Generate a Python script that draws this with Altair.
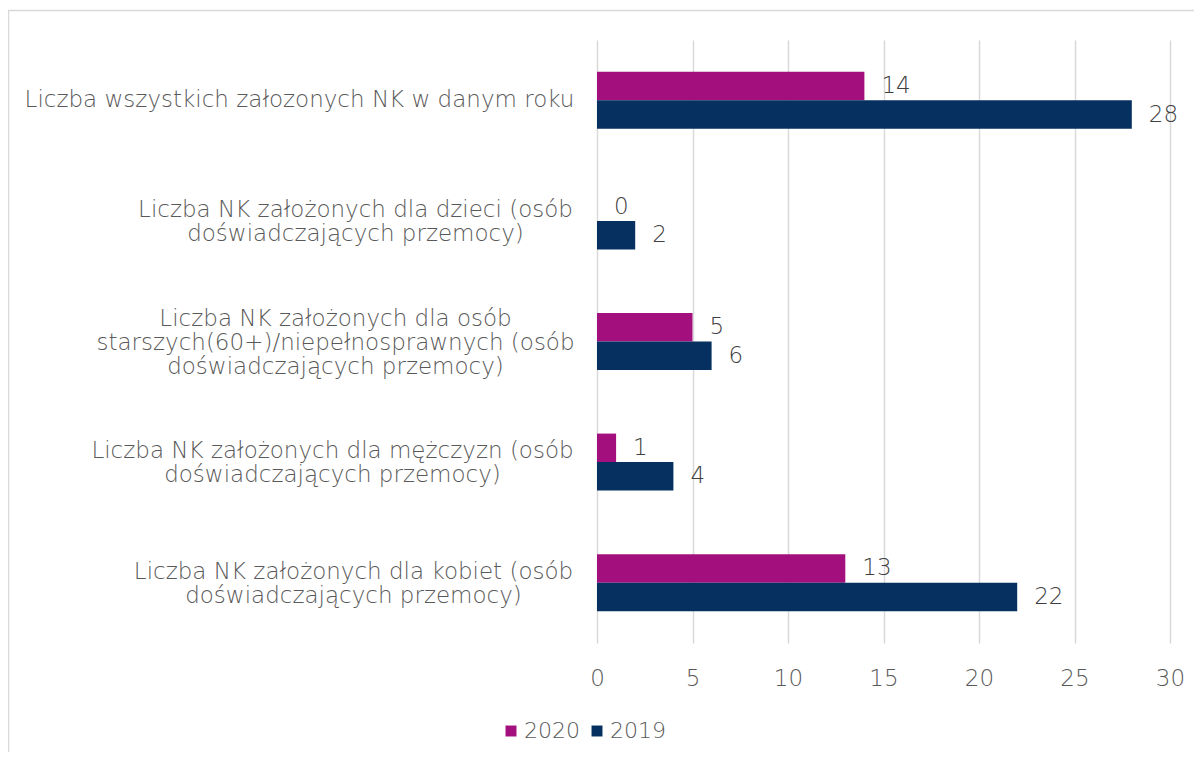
import altair as alt
import pandas as pd

categories = [
    "Liczba wszystkich załozonych NK w danym roku",
    "Liczba NK założonych dla dzieci (osób|doświadczających przemocy)",
    "Liczba NK założonych dla osób|starszych(60+)/niepełnosprawnych (osób|doświadczających przemocy)",
    "Liczba NK założonych dla mężczyzn (osób|doświadczających przemocy)",
    "Liczba NK założonych dla kobiet (osób|doświadczających przemocy)",
]
years = ["2020", "2019"]
values_2020 = [14, 0, 5, 1, 13]
values_2019 = [28, 2, 6, 4, 22]
x_ticks = [0, 5, 10, 15, 20, 25, 30]
colors = ["#A3107E", "#06305F"]

rows = []
for c, v20, v19 in zip(categories, values_2020, values_2019):
    rows.append({"category": c, "year": "2020", "value": v20})
    rows.append({"category": c, "year": "2019", "value": v19})
df = pd.DataFrame(rows)

FONT = "DejaVu Sans"
TXT = "#595959"
FS = 23
LH = 24

# centred multi-line labels: distance from the plot's left edge to each label's centre
label_pad = {
    "wszystkich": 298,
    "dzieci": 242,
    "starszych": 262,
    "mężczyzn": 265,
    "kobiet": 244,
}
pad_cond = {
    "condition": [
        {"test": f"indexof(datum.value, '{k}') >= 0", "value": v}
        for k, v in label_pad.items()
    ],
    "value": 260,
}
# vertical centring of multi-line labels: shift up by half the extra lines
off_cond = {
    "condition": [
        {"test": "indexof(datum.value, 'wszystkich') >= 0", "value": 0},
        {"test": "indexof(datum.value, 'starszych') >= 0", "value": -LH + 1},
    ],
    "value": -LH / 2 + 1,
}

base = alt.Chart(df).encode(
    y=alt.Y(
        "category:N",
        sort=categories,
        scale=alt.Scale(paddingInner=0.527, paddingOuter=0.2635),
        axis=alt.Axis(
            title=None,
            labelExpr="split(datum.label, '|')",
            labelFontSize=FS,
            labelLineHeight=LH,
            labelPadding=pad_cond,
            labelOffset=off_cond,
            labelAlign="center",
            labelColor=TXT,
            labelFont=FONT,
            labelFontWeight=200,
            labelLimit=0,
            domain=False,
            ticks=False,
            grid=False,
        ),
    ),
    yOffset=alt.YOffset(
        "year:N", sort=years, scale=alt.Scale(paddingInner=0, paddingOuter=0)
    ),
)

bars = base.mark_bar(stroke=None).encode(
    x=alt.X(
        "value:Q",
        scale=alt.Scale(domain=[0, 30], nice=False),
        axis=alt.Axis(
            title=None,
            values=x_ticks,
            grid=True,
            gridColor="#d9d9d9",
            gridWidth=1.5,
            domain=False,
            ticks=False,
            labelFontSize=FS,
            labelColor=TXT,
            labelFont=FONT,
            labelFontWeight=200,
            labelPadding=24,
            labelFlush=False,
        ),
    ),
    color=alt.Color(
        "year:N",
        scale=alt.Scale(domain=years, range=colors),
        legend=alt.Legend(
            title=None,
            orient="none",
            direction="horizontal",
            legendX=-97,
            legendY=680,
            symbolType="square",
            symbolSize=120,
            symbolStrokeWidth=0,
            labelFontSize=22,
            labelFont=FONT,
            labelFontWeight=200,
            labelColor=TXT,
            labelOffset=2,
            columnPadding=6,
        ),
    ),
)

text = base.mark_text(
    align="left", baseline="middle", dx=17, fontSize=FS, font=FONT,
    fontWeight=200, color="#404040",
).encode(x="value:Q", text="value:Q")

border = alt.Chart(pd.DataFrame({"a": [0]})).mark_rect(
    fillOpacity=0, stroke="#d9d9d9", strokeWidth=1.5
).encode(
    x=alt.value(-588.5), x2=alt.value(800), y=alt.value(-29.5), y2=alt.value(900)
)

chart = (
    alt.layer(border, bars, text)
    .properties(
        width=573,
        height=603,
        autosize=alt.AutoSizeParams(type="none"),
        padding={"left": 589, "top": 32, "right": 24, "bottom": 109},
    )
    .configure_view(stroke=None)
)

chart.save("out.html", embed_options={"renderer": "svg", "actions": False})
